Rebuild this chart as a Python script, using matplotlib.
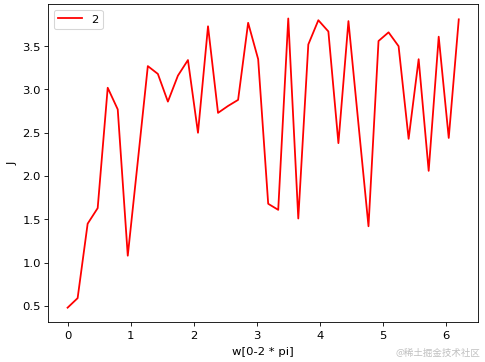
import numpy as np
import matplotlib
matplotlib.use("Agg")
import matplotlib.pyplot as plt

plt.rcParams['font.size'] = 11

# w 取 0 ~ 2*pi 之间的 40 个点
w = np.linspace(0, 6.2, 40)
J = [0.48, 0.59, 1.45, 1.63, 3.02, 2.77, 1.08, 2.17, 3.27, 3.18,
     2.86, 3.16, 3.34, 2.50, 3.73, 2.73, 2.81, 2.88, 3.77, 3.35,
     1.68, 1.61, 3.82, 1.51, 3.52, 3.80, 3.67, 2.38, 3.79, 2.60,
     1.42, 3.56, 3.66, 3.50, 2.43, 3.35, 2.06, 3.61, 2.44, 3.81]

fig = plt.figure(figsize=(6.4, 4.78), dpi=75.8)
plt.subplots_adjust(left=0.099, right=0.986, top=0.988, bottom=0.11)
plt.plot(w, J, color='red', label='2', linewidth=1.7)
plt.xlabel('w[0-2 * pi]', labelpad=5)
plt.ylabel('J')
plt.tick_params(axis='x', pad=5)
plt.legend(loc='upper left')

# 水印
fig.text(0.99, 0.012, '@稀土掘金技术社区', ha='right', va='bottom',
         color='#c0c0c0', fontsize=9, family=['Noto Sans CJK SC', 'DejaVu Sans'])

plt.savefig('out.png')
